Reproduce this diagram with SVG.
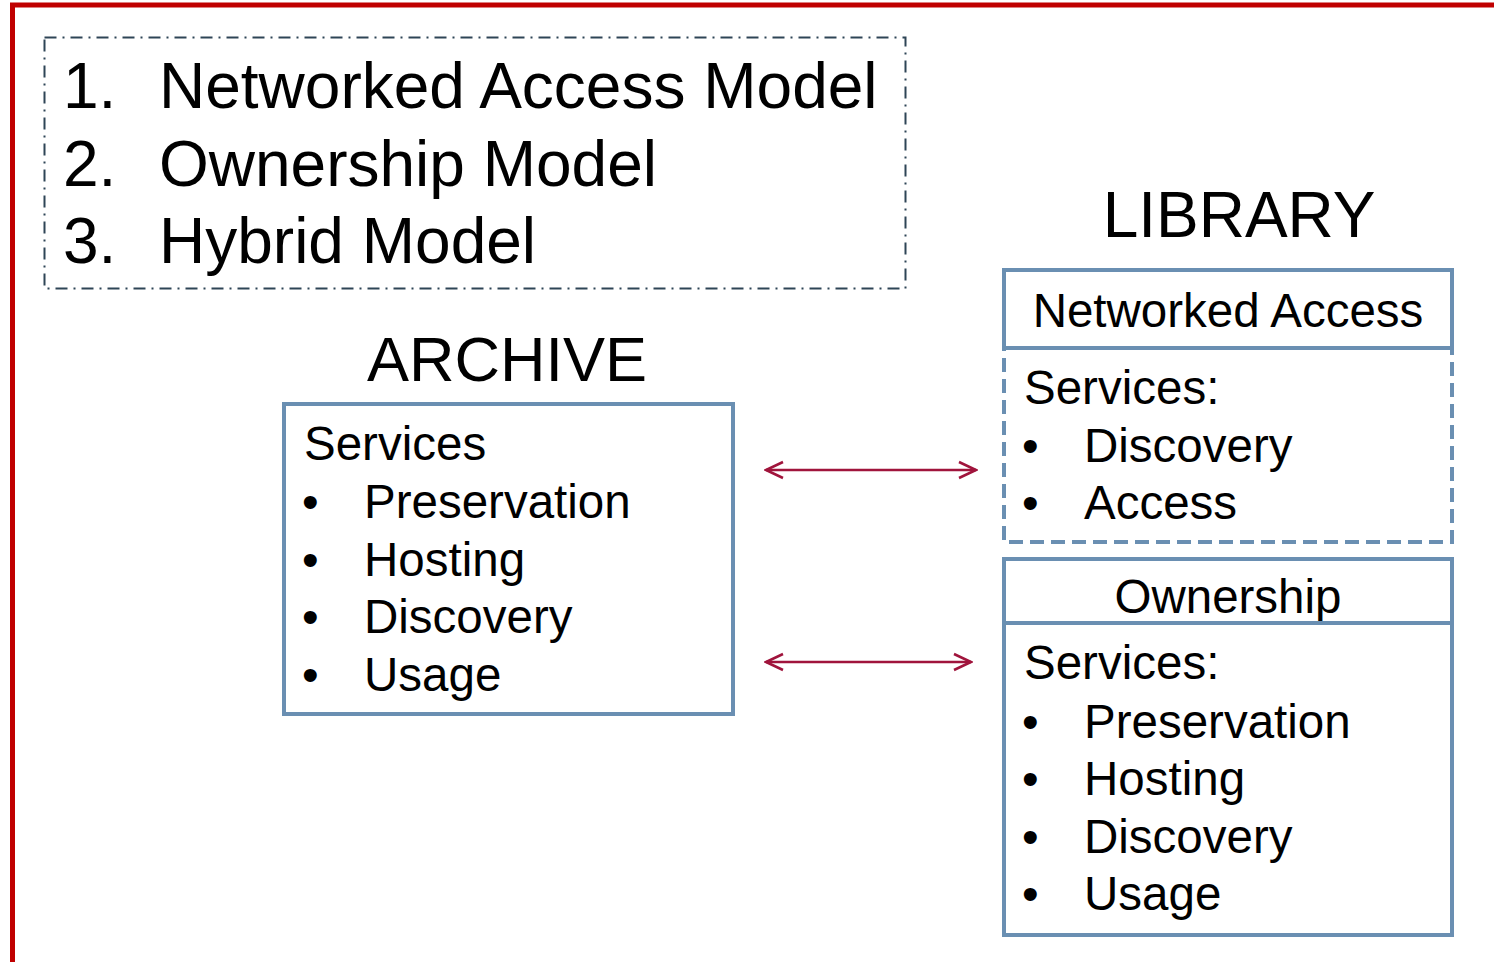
<svg xmlns="http://www.w3.org/2000/svg" width="1494" height="962" viewBox="0 0 1494 962">
  <style>
    text { font-family: "Liberation Sans", Arial, sans-serif; fill: #000; }
    .big { font-size: 63px; }
    .list { font-size: 64px; }
    .item { font-size: 47.5px; }
    .box { fill: #fff; stroke: #6A8FB2; stroke-width: 4; }
    .dash { fill: none; stroke: #6A8FB2; stroke-width: 4; stroke-dasharray: 14 7; }
    .link { stroke: #A0143C; stroke-width: 2.5; fill: none; }
  </style>
  <defs>
    <marker id="head" viewBox="0 0 20 20" refX="18" refY="10" markerWidth="20" markerHeight="20" markerUnits="userSpaceOnUse" orient="auto-start-reverse">
      <path d="M1,2 L18,10 L1,18" fill="none" stroke="#A0143C" stroke-width="2.5"/>
    </marker>
  </defs>
  <rect width="1494" height="962" fill="#fff"/>

  <!-- red slide frame -->
  <path d="M12.5,962 V5 H1494" fill="none" stroke="#C00000" stroke-width="5"/>

  <!-- list of models -->
  <g id="models">
    <rect x="44.5" y="37.5" width="861" height="251" fill="none" stroke="#2E4556" stroke-width="2" stroke-dasharray="12 6 2 6"/>
    <text class="list" x="63" y="108">1.</text>
    <text class="list" x="159" y="108">Networked Access Model</text>
    <text class="list" x="63" y="186">2.</text>
    <text class="list" x="159" y="186">Ownership Model</text>
    <text class="list" x="63" y="263">3.</text>
    <text class="list" x="159" y="263">Hybrid Model</text>
  </g>

  <!-- archive -->
  <g id="archive">
    <text class="big" x="507" y="381" text-anchor="middle">ARCHIVE</text>
    <rect class="box" x="284" y="404" width="449" height="310"/>
    <text class="item" x="304" y="460">Services</text>
    <text class="item" x="302" y="518">•</text>
    <text class="item" x="364" y="518">Preservation</text>
    <text class="item" x="302" y="576">•</text>
    <text class="item" x="364" y="576">Hosting</text>
    <text class="item" x="302" y="633">•</text>
    <text class="item" x="364" y="633">Discovery</text>
    <text class="item" x="302" y="691">•</text>
    <text class="item" x="364" y="691">Usage</text>
  </g>

  <!-- library: networked access -->
  <g id="library-networked">
    <text class="list" x="1239" y="237" text-anchor="middle">LIBRARY</text>
    <rect class="dash" x="1004" y="348" width="448" height="194"/>
    <rect class="box" x="1004" y="270" width="448" height="78"/>
    <text class="item" x="1228" y="327" text-anchor="middle">Networked Access</text>
    <text class="item" x="1024" y="404">Services:</text>
    <text class="item" x="1022" y="462">•</text>
    <text class="item" x="1084" y="462">Discovery</text>
    <text class="item" x="1022" y="519">•</text>
    <text class="item" x="1084" y="519">Access</text>
  </g>

  <!-- library: ownership -->
  <g id="library-ownership">
    <rect class="box" x="1004" y="559" width="448" height="376"/>
    <text class="item" x="1228" y="613" text-anchor="middle">Ownership</text>
    <line x1="1004" y1="623" x2="1452" y2="623" stroke="#6A8FB2" stroke-width="4"/>
    <text class="item" x="1024" y="679">Services:</text>
    <text class="item" x="1022" y="738">•</text>
    <text class="item" x="1084" y="738">Preservation</text>
    <text class="item" x="1022" y="795">•</text>
    <text class="item" x="1084" y="795">Hosting</text>
    <text class="item" x="1022" y="853">•</text>
    <text class="item" x="1084" y="853">Discovery</text>
    <text class="item" x="1022" y="910">•</text>
    <text class="item" x="1084" y="910">Usage</text>
  </g>

  <!-- two-way links -->
  <g id="connectors">
    <line class="link" x1="766" y1="470" x2="976" y2="470" marker-start="url(#head)" marker-end="url(#head)"/>
    <line class="link" x1="766" y1="662" x2="971" y2="662" marker-start="url(#head)" marker-end="url(#head)"/>
  </g>
</svg>
